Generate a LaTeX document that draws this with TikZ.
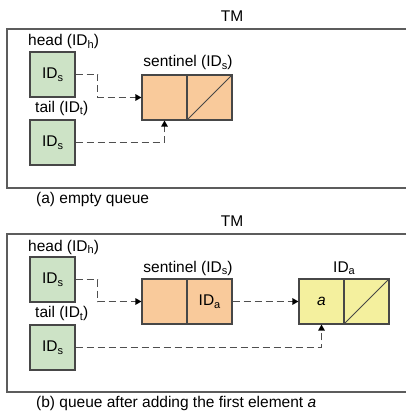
\documentclass[tikz,border=0pt]{standalone}
\usepackage{fontspec}
\setmainfont{Liberation Sans}
\usetikzlibrary{arrows.meta}
\newcommand{\sbs}[1]{\raisebox{-2.5pt}{\fontsize{11}{11}\selectfont #1}}
\definecolor{greenfill}{HTML}{CDE3C6}
\definecolor{orangefill}{HTML}{F9CA9B}
\definecolor{yellowfill}{HTML}{F4F09E}
\definecolor{boxline}{HTML}{474747}
\definecolor{frameline}{HTML}{5C5C5C}
\definecolor{dashline}{HTML}{4F4F4F}
\begin{document}
\begin{tikzpicture}[x=1pt,y=-1pt,
  every node/.style={font=\fontsize{15.5}{15.5}\selectfont},
  cell/.style={draw=boxline,line width=1.1pt,minimum width=45pt,minimum height=45pt,inner sep=0pt},
  gbox/.style={cell,fill=greenfill},
  obox/.style={cell,fill=orangefill},
  ybox/.style={cell,fill=yellowfill},
  lbl/.style={anchor=base west,inner sep=0pt},
  clbl/.style={anchor=base,inner sep=0pt},
  frame/.style={draw=frameline,line width=1.4pt},
  link/.style={draw=dashline,line width=1.2pt,dash pattern=on 7pt off 4pt,-{Triangle[length=6pt,width=6.5pt,color=black]}},
  diag/.style={draw=boxline,line width=0.9pt}]
\useasboundingbox (0,0) rectangle (406,414);
% ---------------- panel (a)
\node[clbl] (tma) at (232,22) {TM};
\draw[frame] (406,29) -- (7,29) -- (7,188) -- (406,188);
\node[lbl] (hla) at (28,46) {head (ID\sbs{h})};
\node[gbox] (ha) at (52.5,74.5) {ID\sbs{s}};
\node[lbl] (tla) at (35,112.5) {tail (ID\sbs{t})};
\node[gbox] (ta) at (52.5,142.5) {ID\sbs{s}};
\node[clbl] (sla) at (188,67) {sentinel (ID\sbs{s})};
\node[obox] (saL) at (164.5,97.5) {};
\node[obox] (saR) at (209.5,97.5) {};
\draw[diag] (saR.south west) -- (saR.north east);
\draw[link] (ha.east) -- ++(22,0) |- (saL.west);
\draw[link] (ta.east) -| (saL.south);
\node[lbl] (capa) at (36,203.5) {(a) empty queue};
% ---------------- panel (b)
\node[clbl] (tmb) at (232,226.5) {TM};
\draw[frame] (406,234) -- (7,234) -- (7,392) -- (406,392);
\node[lbl] (hlb) at (28,251) {head (ID\sbs{h})};
\node[gbox] (hb) at (52.5,279.5) {ID\sbs{s}};
\node[lbl] (tlb) at (35,317.5) {tail (ID\sbs{t})};
\node[gbox] (tb) at (52.5,347.5) {ID\sbs{s}};
\node[clbl] (slb) at (188,272) {sentinel (ID\sbs{s})};
\node[obox] (sbL) at (164.5,301.5) {};
\node[obox] (sbR) at (209.5,301.5) {ID\sbs{a}};
\node[clbl] (ila) at (344,272) {ID\sbs{a}};
\node[ybox] (aL) at (321.5,301.5) {\textit{a}};
\node[ybox] (aR) at (366.5,301.5) {};
\draw[diag] (aR.south west) -- (aR.north east);
\draw[link] (hb.east) -- ++(22,0) |- (sbL.west);
\draw[link] (sbR.east) -- (aL.west);
\draw[link] (tb.east) -| (aL.south);
\node[lbl] (capb) at (36,407.5) {(b) queue after adding the first element \textit{a}};
\end{tikzpicture}
\end{document}
